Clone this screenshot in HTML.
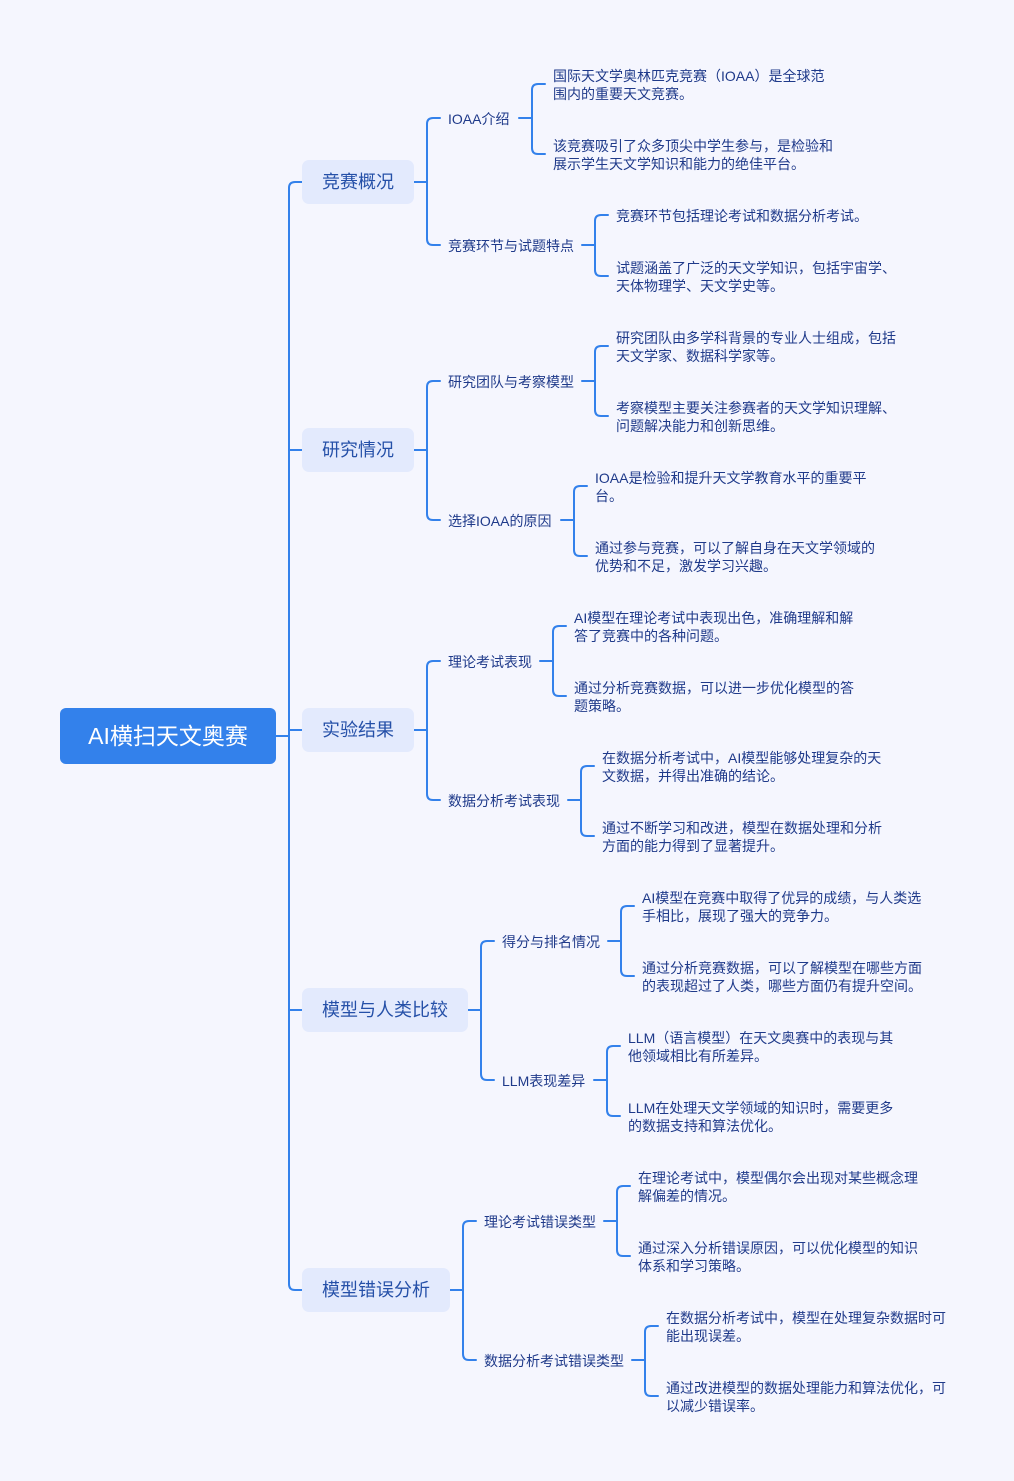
<!DOCTYPE html>
<html><head><meta charset="utf-8"><style>
html,body{margin:0;padding:0;}
body{width:1014px;height:1480px;background:#f5f6fe;position:relative;overflow:hidden;font-family:"Liberation Sans","Noto Sans CJK SC",sans-serif;}
svg{position:absolute;left:0;top:0;}
.t{position:absolute;left:0;top:1px;width:1014px;height:1480px;}
.root{position:absolute;left:60px;top:707px;width:216px;height:56px;background:#3381eb;border-radius:6px;color:#fff;font-size:23px;line-height:56px;text-align:center;}
.l1{position:absolute;left:302px;height:44px;background:#e3eafd;border-radius:7px;color:#2550a8;font-size:18px;line-height:44px;text-align:center;}
.l2{position:absolute;color:#1f3a8a;font-size:14px;line-height:18px;white-space:nowrap;}
.lf{position:absolute;color:#1f3a8a;font-size:14px;line-height:18px;white-space:nowrap;}
</style></head><body>
<svg width="1014" height="1480" fill="none" stroke="#3381eb" stroke-width="2" stroke-linecap="round">
<path d="M276 736H289"/>
<path d="M302 182H295Q289 182 289 188V1284Q289 1290 295 1290H302"/>
<path d="M289 450H302M289 730H302M289 1010H302"/>
<path d="M414 182H427M440 118H433Q427 118 427 124V239Q427 245 433 245H440"/>
<path d="M414 450H427M440 381H433Q427 381 427 387V514Q427 520 433 520H440"/>
<path d="M414 730H427M440 661H433Q427 661 427 667V794Q427 800 433 800H440"/>
<path d="M468 1010H481M494 941H487Q481 941 481 947V1074Q481 1080 487 1080H494"/>
<path d="M450 1290H463M476 1221H469Q463 1221 463 1227V1354Q463 1360 469 1360H476"/>
<path d="M519 118H532M545 84H538Q532 84 532 90V148Q532 154 538 154H545"/>
<path d="M582 245H595M608 215H601Q595 215 595 221V270Q595 276 601 276H608"/>
<path d="M582 381H595M608 346H601Q595 346 595 352V410Q595 416 601 416H608"/>
<path d="M561 520H574M587 486H580Q574 486 574 492V550Q574 556 580 556H587"/>
<path d="M540 661H553M566 626H559Q553 626 553 632V690Q553 696 559 696H566"/>
<path d="M568 800H581M594 766H587Q581 766 581 772V830Q581 836 587 836H594"/>
<path d="M608 941H621M634 906H627Q621 906 621 912V970Q621 976 627 976H634"/>
<path d="M594 1080H607M620 1046H613Q607 1046 607 1052V1110Q607 1116 613 1116H620"/>
<path d="M604 1221H617M630 1186H623Q617 1186 617 1192V1250Q617 1256 623 1256H630"/>
<path d="M632 1360H645M658 1326H651Q645 1326 645 1332V1390Q645 1396 651 1396H658"/>
</svg>
<div class="t">
<div class="root">AI横扫天文奥赛</div>
<div class="l1" style="top:159px;width:112px">竞赛概况</div>
<div class="l1" style="top:427px;width:112px">研究情况</div>
<div class="l1" style="top:707px;width:112px">实验结果</div>
<div class="l1" style="top:987px;width:166px">模型与人类比较</div>
<div class="l1" style="top:1267px;width:148px">模型错误分析</div>

<div class="l2" style="left:448px;top:109px">IOAA介绍</div>
<div class="l2" style="left:448px;top:236px">竞赛环节与试题特点</div>
<div class="l2" style="left:448px;top:372px">研究团队与考察模型</div>
<div class="l2" style="left:448px;top:511px">选择IOAA的原因</div>
<div class="l2" style="left:448px;top:652px">理论考试表现</div>
<div class="l2" style="left:448px;top:791px">数据分析考试表现</div>
<div class="l2" style="left:502px;top:932px">得分与排名情况</div>
<div class="l2" style="left:502px;top:1071px">LLM表现差异</div>
<div class="l2" style="left:484px;top:1212px">理论考试错误类型</div>
<div class="l2" style="left:484px;top:1351px">数据分析考试错误类型</div>

<div class="lf" style="left:553px;top:66px">国际天文学奥林匹克竞赛（IOAA）是全球范<br>围内的重要天文竞赛。</div>
<div class="lf" style="left:553px;top:136px">该竞赛吸引了众多顶尖中学生参与，是检验和<br>展示学生天文学知识和能力的绝佳平台。</div>
<div class="lf" style="left:616px;top:206px">竞赛环节包括理论考试和数据分析考试。</div>
<div class="lf" style="left:616px;top:258px">试题涵盖了广泛的天文学知识，包括宇宙学、<br>天体物理学、天文学史等。</div>
<div class="lf" style="left:616px;top:328px">研究团队由多学科背景的专业人士组成，包括<br>天文学家、数据科学家等。</div>
<div class="lf" style="left:616px;top:398px">考察模型主要关注参赛者的天文学知识理解、<br>问题解决能力和创新思维。</div>
<div class="lf" style="left:595px;top:468px">IOAA是检验和提升天文学教育水平的重要平<br>台。</div>
<div class="lf" style="left:595px;top:538px">通过参与竞赛，可以了解自身在天文学领域的<br>优势和不足，激发学习兴趣。</div>
<div class="lf" style="left:574px;top:608px">AI模型在理论考试中表现出色，准确理解和解<br>答了竞赛中的各种问题。</div>
<div class="lf" style="left:574px;top:678px">通过分析竞赛数据，可以进一步优化模型的答<br>题策略。</div>
<div class="lf" style="left:602px;top:748px">在数据分析考试中，AI模型能够处理复杂的天<br>文数据，并得出准确的结论。</div>
<div class="lf" style="left:602px;top:818px">通过不断学习和改进，模型在数据处理和分析<br>方面的能力得到了显著提升。</div>
<div class="lf" style="left:642px;top:888px">AI模型在竞赛中取得了优异的成绩，与人类选<br>手相比，展现了强大的竞争力。</div>
<div class="lf" style="left:642px;top:958px">通过分析竞赛数据，可以了解模型在哪些方面<br>的表现超过了人类，哪些方面仍有提升空间。</div>
<div class="lf" style="left:628px;top:1028px">LLM（语言模型）在天文奥赛中的表现与其<br>他领域相比有所差异。</div>
<div class="lf" style="left:628px;top:1098px">LLM在处理天文学领域的知识时，需要更多<br>的数据支持和算法优化。</div>
<div class="lf" style="left:638px;top:1168px">在理论考试中，模型偶尔会出现对某些概念理<br>解偏差的情况。</div>
<div class="lf" style="left:638px;top:1238px">通过深入分析错误原因，可以优化模型的知识<br>体系和学习策略。</div>
<div class="lf" style="left:666px;top:1308px">在数据分析考试中，模型在处理复杂数据时可<br>能出现误差。</div>
<div class="lf" style="left:666px;top:1378px">通过改进模型的数据处理能力和算法优化，可<br>以减少错误率。</div>
</div>
</body></html>
